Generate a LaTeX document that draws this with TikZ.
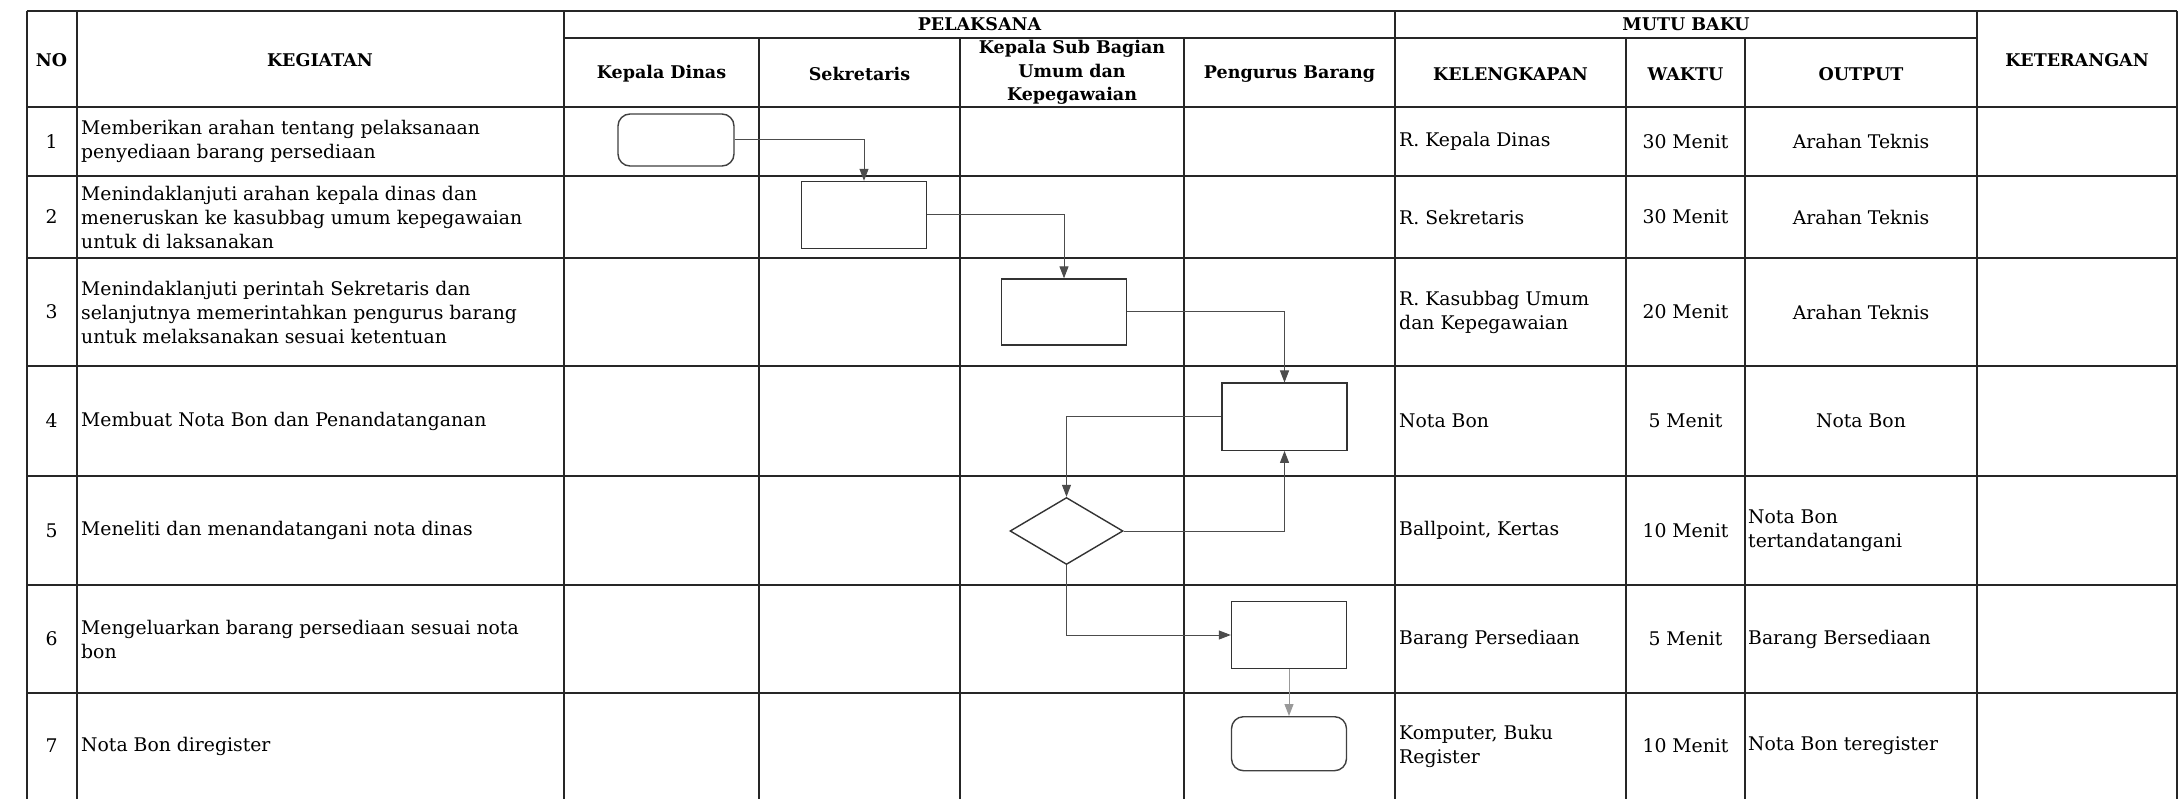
\documentclass[tikz,border=0pt]{standalone}
\usepackage{fontspec}
\setmainfont{DejaVu Serif}
\usetikzlibrary{arrows.meta,shapes.geometric}
\begin{document}
\begin{tikzpicture}[x=1pt,y=-1pt,
  gridline/.style={line width=2pt, draw=black!85},
  box/.style={draw=black!80, line width=1.4pt, minimum width=125pt, minimum height=67pt, inner sep=0pt},
  term/.style={draw=black!75, line width=1.4pt, rounded corners=12pt, inner sep=0pt},
  dec/.style={diamond, draw=black!80, line width=1.4pt, aspect=1.69, minimum width=113pt, minimum height=67pt, inner sep=0pt},
  conn/.style={draw=black!70, line width=1pt, -{Triangle[length=12pt,width=9pt]}},
  hd/.style={font=\fontsize{17.5}{23.5}\selectfont\bfseries, align=center, inner sep=0pt},
  tx/.style={font=\fontsize{18.8}{24}\selectfont, align=left, anchor=west, inner sep=0pt},
  tc/.style={font=\fontsize{18.8}{24}\selectfont, align=center, inner sep=0pt},
]
\useasboundingbox (0,0) rectangle (2179,799);
\fill[white] (0,0) rectangle (2179,799);

% grid
\foreach \x in {26.5,76.5,564,1395,1977,2177} \draw[gridline] (\x,11) -- (\x,799);
\foreach \x in {759,960,1184,1626,1745} \draw[gridline] (\x,38) -- (\x,799);
\draw[gridline] (26.5,11) -- (2177,11);
\draw[gridline] (564,38) -- (1977,38);
\foreach \y in {107,176,258,366,476,585,693} \draw[gridline] (26.5,\y) -- (2177,\y);

% header
\node[hd] (hno) at (51.5,60) {NO};
\node[hd] (hkeg) at (320,60) {KEGIATAN};
\node[hd] (hpel) at (979.5,24.5) {PELAKSANA};
\node[hd] (hmutu) at (1686,24.5) {MUTU BAKU};
\node[hd] (hket) at (2077,60) {KETERANGAN};
\node[hd] (hkd) at (661.5,74) {Kepala Dinas};
\node[hd] (hsek) at (859.5,74) {Sekretaris};
\node[hd] (hksb) at (1072,72.5) {Kepala Sub Bagian\\Umum dan\\Kepegawaian};
\node[hd] (hpb) at (1289.5,74) {Pengurus Barang};
\node[hd] (hkel) at (1510.5,74) {KELENGKAPAN};
\node[hd] (hwak) at (1685.5,74) {WAKTU};
\node[hd] (hout) at (1861,74) {OUTPUT};

% numbers
\foreach \i/\y in {1/141.5,2/217,3/312,4/421,5/530.5,6/639,7/746}
  \node[tc] (n\i) at (51.5,\y) {\i};

% kegiatan
\node[tx] (k1) at (81,141.5) {Memberikan arahan tentang pelaksanaan\\penyediaan barang persediaan};
\node[tx] (k2) at (81,217) {Menindaklanjuti arahan kepala dinas dan\\meneruskan ke kasubbag umum kepegawaian\\untuk di laksanakan};
\node[tx] (k3) at (81,312) {Menindaklanjuti perintah Sekretaris dan\\selanjutnya memerintahkan pengurus barang\\untuk melaksanakan sesuai ketentuan};
\node[tx] (k4) at (81,421) {Membuat Nota Bon dan Penandatanganan};
\node[tx] (k5) at (81,530.5) {Meneliti dan menandatangani nota dinas};
\node[tx] (k6) at (81,639) {Mengeluarkan barang persediaan sesuai nota\\bon};
\node[tx] (k7) at (81,746) {Nota Bon diregister};

% kelengkapan
\node[tx] (l1) at (1399,141.5) {R. Kepala Dinas};
\node[tx] (l2) at (1399,217) {R. Sekretaris};
\node[tx] (l3) at (1399,312) {R. Kasubbag Umum\\dan Kepegawaian};
\node[tx] (l4) at (1399,421) {Nota Bon};
\node[tx] (l5) at (1399,530.5) {Ballpoint, Kertas};
\node[tx] (l6) at (1399,639) {Barang Persediaan};
\node[tx] (l7) at (1399,746) {Komputer, Buku\\Register};

% waktu
\node[tc] (w1) at (1685.5,141.5) {30 Menit};
\node[tc] (w2) at (1685.5,217) {30 Menit};
\node[tc] (w3) at (1685.5,312) {20 Menit};
\node[tc] (w4) at (1685.5,421) {5 Menit};
\node[tc] (w5) at (1685.5,530.5) {10 Menit};
\node[tc] (w6) at (1685.5,639) {5 Menit};
\node[tc] (w7) at (1685.5,746) {10 Menit};

% output
\node[tc] (o1) at (1861,141.5) {Arahan Teknis};
\node[tc] (o2) at (1861,217) {Arahan Teknis};
\node[tc] (o3) at (1861,312) {Arahan Teknis};
\node[tc] (o4) at (1861,421) {Nota Bon};
\node[tx] (o5) at (1748,530.5) {Nota Bon\\tertandatangani};
\node[tx] (o6) at (1748,639) {Barang Bersediaan};
\node[tx] (o7) at (1748,746) {Nota Bon teregister};

% flow shapes
\node[term, minimum width=116pt, minimum height=52pt] (t1) at (676,140) {};
\node[box] (b2) at (864,215) {};
\node[box, minimum height=66pt] (b3) at (1064,312) {};
\node[box] (b4) at (1284.5,416.7) {};
\node[dec] (d5) at (1066.5,531) {};
\node[box, minimum width=115pt] (b6) at (1289,635) {};
\node[term, minimum width=115pt, minimum height=54pt] (t7) at (1289,743.7) {};

% connectors
\draw[conn] (t1.east) -| (b2.north);
\draw[conn] (b2.east) -| (b3.north);
\draw[conn] (b3.east) -| (b4.north);
\draw[conn] (b4.west) -| (d5.north);
\draw[conn] (d5.east) -| (b4.south);
\draw[conn] (d5.south) |- (b6.west);
\draw[conn, draw=black!40, fill=black!40] (b6.south) -- (t7.north);
\end{tikzpicture}
\end{document}
